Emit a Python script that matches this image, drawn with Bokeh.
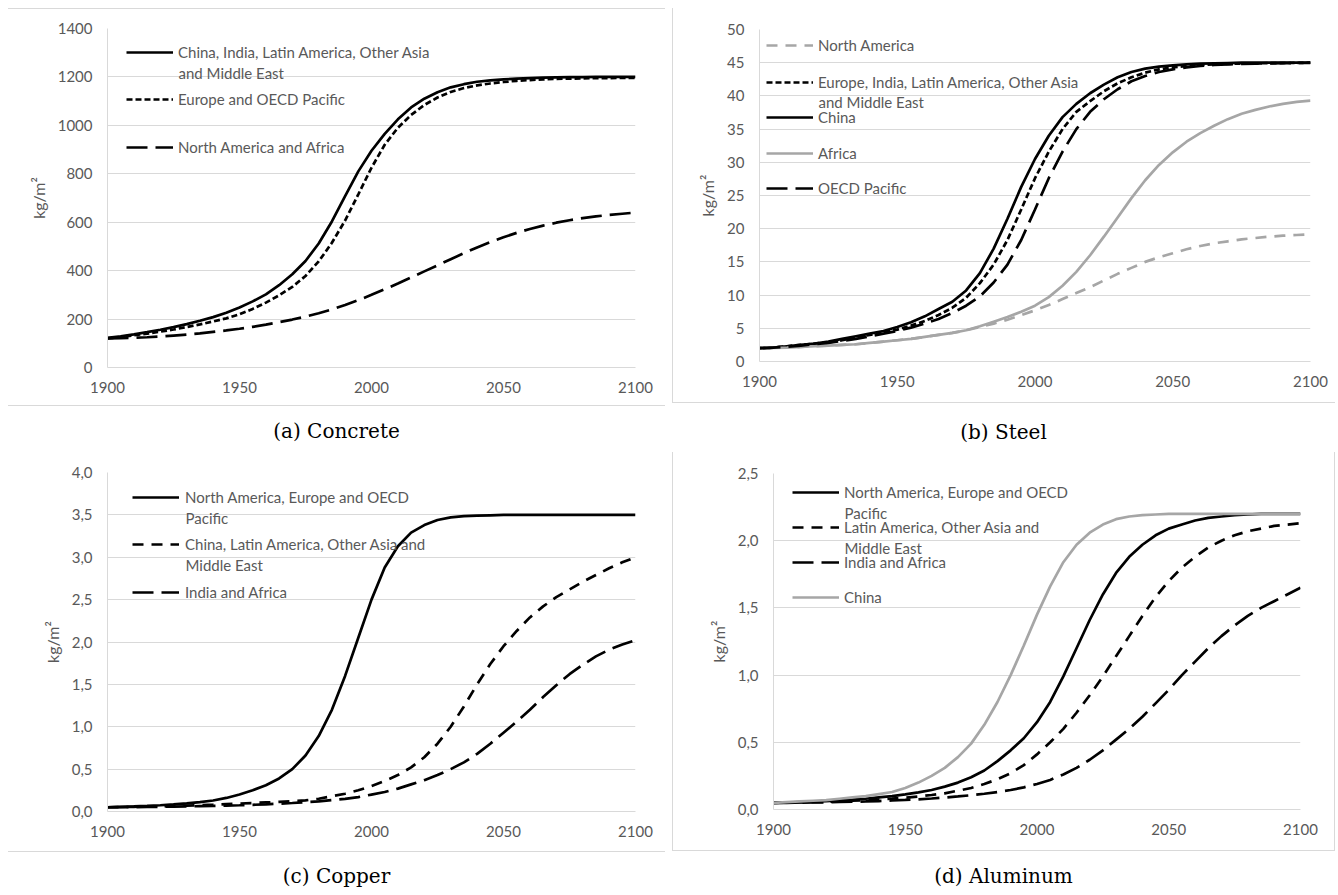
from bokeh.plotting import figure
from bokeh.models import (Range1d, FixedTicker, CustomJSTickFormatter, Legend,
                          LegendItem, Label, Div)
from bokeh.layouts import row, column
from bokeh.embed import file_html
from bokeh.resources import INLINE

# ---------------- data ----------------
YEARS = list(range(1900, 2101, 5))
X_TICKS = [1900, 1950, 2000, 2050, 2100]

# (a) Concrete, kg/m2
CONC_TICKS = [0, 200, 400, 600, 800, 1000, 1200, 1400]
CONC_CHINA_ETC = [122, 129, 137, 146, 156, 167, 179, 193, 208, 226,
                  248, 273, 302, 340, 385, 440, 512, 603, 708, 810,
                  895, 965, 1025, 1074, 1110, 1137, 1157, 1170, 1180, 1186,
                  1190, 1193, 1195, 1197, 1198, 1199, 1199, 1200, 1200, 1200,
                  1200]
CONC_EUROPE_OECD = [120, 126, 133, 140, 148, 157, 167, 178, 190, 203,
                    220, 242, 268, 298, 333, 378, 438, 515, 607, 715,
                    825, 920, 990, 1043, 1084, 1115, 1138, 1154, 1165, 1173,
                    1179, 1184, 1187, 1190, 1192, 1193, 1194, 1195, 1195, 1196,
                    1196]
CONC_NAM_AFRICA = [120, 121, 123, 125, 128, 132, 136, 141, 147, 153,
                   160, 168, 177, 187, 198, 210, 224, 240, 258, 278,
                   300, 323, 347, 372, 397, 422, 447, 472, 496, 518,
                   538, 556, 572, 586, 598, 608, 617, 624, 630, 635,
                   640]

# (b) Steel, kg/m2
STEEL_TICKS = [0, 5, 10, 15, 20, 25, 30, 35, 40, 45, 50]
STEEL_NAM = [2.0, 2.05, 2.1, 2.2, 2.3, 2.4, 2.5, 2.6, 2.8, 3.0,
             3.2, 3.4, 3.7, 4.0, 4.3, 4.7, 5.2, 5.7, 6.3, 7.0,
             7.7, 8.5, 9.4, 10.3, 11.2, 12.2, 13.2, 14.1, 15.0, 15.7,
             16.3, 16.9, 17.4, 17.8, 18.1, 18.4, 18.6, 18.8, 18.95, 19.05,
             19.15]
STEEL_EUROPE_ETC = [2.0, 2.1, 2.3, 2.5, 2.7, 2.9, 3.2, 3.6, 4.0, 4.4,
                    4.8, 5.4, 6.1, 7.0, 8.1, 9.6, 11.8, 14.6, 18.3, 22.9,
                    27.6, 31.6, 35.0, 37.6, 39.2, 40.7, 41.9, 42.8, 43.5, 44.0,
                    44.3, 44.5, 44.65, 44.75, 44.82, 44.87, 44.9, 44.93, 44.95, 44.97,
                    45.0]
STEEL_CHINA = [2.0, 2.1, 2.3, 2.5, 2.7, 3.0, 3.4, 3.8, 4.2, 4.6,
               5.2, 5.9, 6.8, 7.9, 9.0, 10.7, 13.3, 17.0, 21.5, 26.3,
               30.5, 34.0, 36.8, 38.8, 40.4, 41.7, 42.8, 43.6, 44.1, 44.4,
               44.6, 44.75, 44.85, 44.9, 44.95, 45.0, 45.0, 45.0, 45.0, 45.0,
               45.0]
STEEL_AFRICA = [2.0, 2.05, 2.1, 2.2, 2.3, 2.4, 2.5, 2.6, 2.8, 3.0,
                3.2, 3.4, 3.7, 4.0, 4.3, 4.7, 5.3, 6.0, 6.7, 7.5,
                8.4, 9.7, 11.4, 13.5, 16.0, 18.8, 21.7, 24.6, 27.3, 29.6,
                31.5, 33.1, 34.4, 35.5, 36.5, 37.3, 37.9, 38.4, 38.8, 39.1,
                39.3]
STEEL_OECD_PAC = [2.0, 2.1, 2.2, 2.4, 2.6, 2.8, 3.1, 3.4, 3.8, 4.2,
                  4.6, 5.1, 5.7, 6.4, 7.3, 8.4, 9.8, 11.9, 14.6, 18.3,
                  22.9, 27.6, 31.6, 35.0, 37.6, 39.5, 41.0, 42.2, 43.0, 43.6,
                  44.0, 44.3, 44.5, 44.65, 44.75, 44.82, 44.87, 44.9, 44.93, 44.95,
                  44.97]

# (c) Copper, kg/m2
COPPER_TICKS = [0, 0.5, 1.0, 1.5, 2.0, 2.5, 3.0, 3.5, 4.0]
COPPER_NAM_EUR_OECD = [0.05, 0.055, 0.06, 0.066, 0.074, 0.083, 0.095, 0.11, 0.13, 0.16,
                       0.2, 0.25, 0.31, 0.39, 0.5, 0.66, 0.89, 1.2, 1.6, 2.05,
                       2.5, 2.88, 3.13, 3.29, 3.38, 3.44, 3.47, 3.485, 3.49, 3.495,
                       3.5, 3.5, 3.5, 3.5, 3.5, 3.5, 3.5, 3.5, 3.5, 3.5,
                       3.5]
COPPER_CHINA_ETC = [0.05, 0.052, 0.055, 0.058, 0.062, 0.066, 0.07, 0.075, 0.08, 0.087,
                    0.094, 0.1, 0.107, 0.114, 0.122, 0.132, 0.15, 0.18, 0.21, 0.25,
                    0.3, 0.36, 0.43, 0.52, 0.64, 0.8, 1.0, 1.24, 1.5, 1.74,
                    1.95, 2.13, 2.29, 2.42, 2.53, 2.62, 2.71, 2.79, 2.87, 2.94,
                    3.0]
COPPER_INDIA_AFRICA = [0.05, 0.051, 0.052, 0.054, 0.056, 0.058, 0.06, 0.063, 0.066, 0.07,
                       0.074, 0.079, 0.085, 0.092, 0.1, 0.11, 0.12, 0.135, 0.15, 0.17,
                       0.2, 0.23, 0.27, 0.32, 0.37, 0.43, 0.5, 0.58, 0.68, 0.8,
                       0.93, 1.06, 1.2, 1.35, 1.49, 1.62, 1.73, 1.83, 1.91, 1.97,
                       2.02]

# (d) Aluminum, kg/m2
ALU_TICKS = [0, 0.5, 1.0, 1.5, 2.0, 2.5]
ALU_NAM_EUR_OECD = [0.05, 0.052, 0.055, 0.058, 0.062, 0.067, 0.073, 0.08, 0.09, 0.1,
                    0.112, 0.127, 0.145, 0.17, 0.2, 0.24, 0.29, 0.36, 0.44, 0.53,
                    0.65, 0.8, 0.99, 1.2, 1.41, 1.6, 1.76, 1.88, 1.97, 2.04,
                    2.09, 2.12, 2.15, 2.17, 2.18, 2.19, 2.195, 2.2, 2.2, 2.2,
                    2.2]
ALU_LATAM_ETC = [0.05, 0.051, 0.053, 0.055, 0.058, 0.061, 0.065, 0.07, 0.075, 0.081,
                 0.088, 0.097, 0.108, 0.12, 0.14, 0.16, 0.19, 0.225, 0.27, 0.33,
                 0.41, 0.5, 0.6, 0.72, 0.85, 0.99, 1.14, 1.29, 1.44, 1.58,
                 1.7, 1.8, 1.88, 1.95, 2.0, 2.04, 2.07, 2.09, 2.11, 2.12,
                 2.13]
ALU_INDIA_AFRICA = [0.05, 0.05, 0.051, 0.052, 0.054, 0.056, 0.058, 0.06, 0.063, 0.067,
                    0.071, 0.076, 0.082, 0.089, 0.097, 0.106, 0.117, 0.13, 0.145, 0.165,
                    0.19, 0.22, 0.26, 0.31, 0.37, 0.44, 0.52, 0.6, 0.69, 0.79,
                    0.89, 1.0, 1.1, 1.2, 1.29, 1.37, 1.44, 1.5, 1.55, 1.6,
                    1.65]
ALU_CHINA = [0.05, 0.055, 0.06, 0.065, 0.07, 0.08, 0.09, 0.1, 0.115, 0.13,
             0.16, 0.2, 0.25, 0.31, 0.39, 0.49, 0.63, 0.8, 1.0, 1.22,
             1.45, 1.66, 1.84, 1.97, 2.06, 2.12, 2.16, 2.18, 2.19, 2.195,
             2.2, 2.2, 2.2, 2.2, 2.2, 2.2, 2.2, 2.2, 2.2, 2.2,
             2.2]

# ---------------- styling ----------------
FONT = "Lato"
FS = "15px"
TXT = "#595959"
GRID = "#d9d9d9"
BLACK = "#000000"
GREY = "#a6a6a6"
LW = 2.7
SQDOT = "6 3"
DASH = "11 8"
LONGDASH = "21 8"


def make_panel(w, h, left, right, top, bottom, ymax, yticks, comma, styles):
    p = figure(width=w, height=h, output_backend="svg", toolbar_location=None,
               x_range=Range1d(1900, 2100), y_range=Range1d(0, ymax),
               min_border_left=left, min_border_right=right,
               min_border_top=top, min_border_bottom=bottom,
               styles=styles)
    p.outline_line_color = None
    p.background_fill_color = "white"
    p.border_fill_color = "white"
    p.xgrid.visible = False
    p.ygrid.grid_line_color = GRID
    p.ygrid.grid_line_width = 1
    p.xaxis.ticker = FixedTicker(ticks=X_TICKS)
    p.yaxis.ticker = FixedTicker(ticks=yticks)
    p.ygrid.ticker = FixedTicker(ticks=yticks)
    if comma:
        p.yaxis.formatter = CustomJSTickFormatter(
            code="return tick.toFixed(1).replace('.', ',');")
    for ax in (p.xaxis[0], p.yaxis[0]):
        ax.major_tick_in = 0
        ax.major_tick_out = 0
        ax.minor_tick_in = 0
        ax.minor_tick_out = 0
        ax.axis_line_color = GRID
        ax.major_label_text_font = FONT
        ax.major_label_text_font_size = FS
        ax.major_label_text_color = TXT
    p.xaxis.major_label_standoff = 14
    p.yaxis.major_label_standoff = 15
    p.yaxis.axis_label = "kg/m²"
    p.yaxis.axis_label_text_font = FONT
    p.yaxis.axis_label_text_font_size = "16px"
    p.yaxis.axis_label_text_font_style = "normal"
    p.yaxis.axis_label_text_color = TXT
    p.yaxis.axis_label_standoff = 7
    return p


def add_item(p, r, label, vx, vy, standoff):
    leg = Legend(items=[LegendItem(label=label, renderers=[r])],
                 location=(vx, vy), glyph_width=47, glyph_height=20,
                 label_height=20, label_standoff=standoff, padding=0,
                 margin=0, spacing=0, border_line_color=None,
                 background_fill_alpha=0, label_text_font=FONT,
                 label_text_font_size=FS, label_text_color=TXT)
    p.add_layout(leg)


def add_line2(p, text, x, y):
    p.add_layout(Label(x=x, y=y, x_units="screen", y_units="screen", text=text,
                       text_font=FONT, text_font_size=FS, text_color=TXT,
                       text_baseline="middle", text_align="left"))


def caption(text, w, h, pt):
    return Div(text=('<div style="width:%dpx;text-align:center;font-family:\'DejaVu Serif\';'
                     'font-size:20px;line-height:20px;padding-top:%dpx;color:#000;">%s</div>'
                     % (w, pt, text)), width=w, height=h, margin=0)


BORDER = "1px solid #d9d9d9"

# ---- (a) Concrete ----
pa = make_panel(657, 398, 99, 30, 19, 40, 1400, CONC_TICKS, False,
                {"border-top": BORDER, "border-bottom": BORDER})
ra1 = pa.line(YEARS, CONC_CHINA_ETC, line_color=BLACK, line_width=LW)
ra2 = pa.line(YEARS, CONC_EUROPE_OECD, line_color=BLACK, line_width=LW, line_dash=SQDOT)
ra3 = pa.line(YEARS, CONC_NAM_AFRICA, line_color=BLACK, line_width=LW, line_dash=LONGDASH)
add_item(pa, ra1, "China, India, Latin America, Other Asia", 19, 305, 5)
add_line2(pa, "and Middle East", 71, 295)
add_item(pa, ra2, "Europe and OECD Pacific", 19, 258, 5)
add_item(pa, ra3, "North America and Africa", 19, 210, 5)

# ---- (b) Steel ----
pb = make_panel(663, 395, 86, 26, 21, 42, 50, STEEL_TICKS, False,
                {"border-left": BORDER, "border-bottom": BORDER})
rb1 = pb.line(YEARS, STEEL_NAM, line_color=GREY, line_width=LW, line_dash=DASH)
rb2 = pb.line(YEARS, STEEL_EUROPE_ETC, line_color=BLACK, line_width=LW, line_dash=SQDOT)
rb3 = pb.line(YEARS, STEEL_CHINA, line_color=BLACK, line_width=LW)
rb4 = pb.line(YEARS, STEEL_AFRICA, line_color=GREY, line_width=LW)
rb5 = pb.line(YEARS, STEEL_OECD_PAC, line_color=BLACK, line_width=LW, line_dash=LONGDASH)
add_item(pb, rb1, "North America", 7, 306, 5)
add_item(pb, rb2, "Europe, India, Latin America, Other Asia", 7, 269, 5)
add_line2(pb, "and Middle East", 59, 260)
add_item(pb, rb3, "China", 7, 234, 5)
add_item(pb, rb4, "Africa", 7, 198, 5)
add_item(pb, rb5, "OECD Pacific", 7, 163, 5)

# ---- (c) Copper ----
pc = make_panel(657, 400, 99, 30, 20, 41, 4.0, COPPER_TICKS, True,
                {"border-bottom": BORDER})
rc1 = pc.line(YEARS, COPPER_NAM_EUR_OECD, line_color=BLACK, line_width=LW)
rc2 = pc.line(YEARS, COPPER_CHINA_ETC, line_color=BLACK, line_width=LW, line_dash=DASH)
rc3 = pc.line(YEARS, COPPER_INDIA_AFRICA, line_color=BLACK, line_width=LW, line_dash=LONGDASH)
add_item(pc, rc1, "North America, Europe and OECD", 25, 304, 6)
add_line2(pc, "Pacific", 78, 294)
add_item(pc, rc2, "China, Latin America, Other Asia and", 25, 257, 6)
add_line2(pc, "Middle East", 78, 247)
add_item(pc, rc3, "India and Africa", 25, 209, 6)

# ---- (d) Aluminum ----
pd_ = make_panel(663, 399, 100, 36, 21, 42, 2.5, ALU_TICKS, True,
                 {"border-left": BORDER, "border-right": BORDER, "border-bottom": BORDER})
rd1 = pd_.line(YEARS, ALU_NAM_EUR_OECD, line_color=BLACK, line_width=LW)
rd2 = pd_.line(YEARS, ALU_LATAM_ETC, line_color=BLACK, line_width=LW, line_dash=DASH)
rd3 = pd_.line(YEARS, ALU_INDIA_AFRICA, line_color=BLACK, line_width=LW, line_dash=LONGDASH)
rd4 = pd_.line(YEARS, ALU_CHINA, line_color=GREY, line_width=LW)
add_item(pd_, rd1, "North America, Europe and OECD", 19, 307, 5)
add_line2(pd_, "Pacific", 71, 297)
add_item(pd_, rd2, "Latin America, Other Asia and", 19, 272, 5)
add_line2(pd_, "Middle East", 71, 262)
add_item(pd_, rd3, "India and Africa", 19, 237, 5)
add_item(pd_, rd4, "China", 19, 202, 5)

cap_a = caption("(a) Concrete", 657, 45, 15)
cap_b = caption("(b) Steel", 663, 49, 19)
cap_c = caption("(c) Copper", 657, 33, 14)
cap_d = caption("(d) Aluminum", 663, 34, 15)

layout = column(
    row(column(pa, cap_a, spacing=0), column(pb, cap_b, spacing=0), spacing=7),
    row(column(pc, cap_c, spacing=0), column(pd_, cap_d, spacing=0), spacing=7),
    spacing=0, margin=(8, 0, 0, 8))

open("out.html", "w").write(file_html(layout, INLINE))
